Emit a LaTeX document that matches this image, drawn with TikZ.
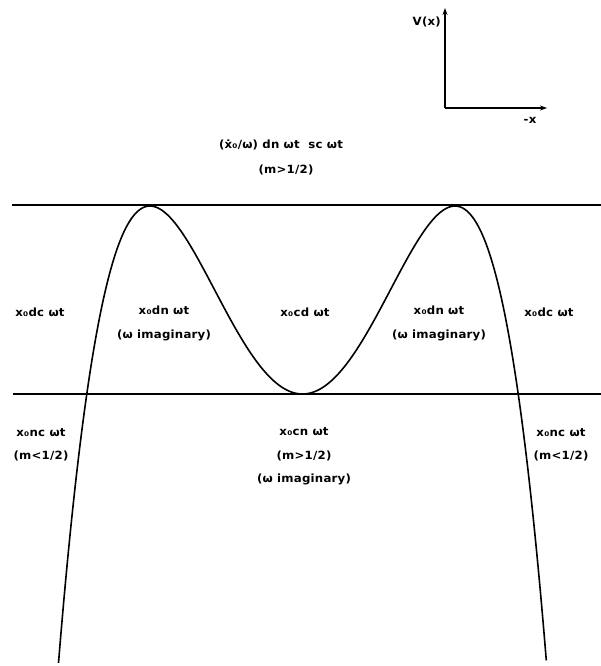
\documentclass[tikz,border=0pt]{standalone}
\usepackage{fontspec}
\setmainfont{DejaVu Sans}[FakeStretch=1.04, LetterSpace=2, BoldFont={DejaVu Sans Bold}]
\usetikzlibrary{arrows.meta}
\begin{document}
\begin{tikzpicture}[x=1pt,y=-1pt,
  lbl/.style={font=\fontsize{11.3}{23.5}\selectfont\bfseries, align=center, inner sep=0pt},
  levelline/.style={line width=1.3pt},
  curve/.style={line width=1.6pt},
  axis/.style={line width=1.3pt, -{Stealth[length=7pt,width=5pt]}}]
\useasboundingbox (0,0) rectangle (601,666);
% axes
\coordinate (O) at (445,108);
\coordinate (Vtop) at (445,8);
\coordinate (Xend) at (547,108);
\draw[axis] (O) -- (Vtop);
\draw[axis] (O) -- (Xend);
\node[lbl, anchor=east] (vlab) at (441,22) {V(x)};
\node[lbl] (xlab) at (530,120) {-x};
% level lines
\coordinate (U1) at (12,205);
\coordinate (U2) at (601,205);
\coordinate (L1) at (13,394);
\coordinate (L2) at (601,394);
\draw[levelline] (U1) -- (U2);
\draw[levelline] (L1) -- (L2);
% potential curve
\draw[curve, domain=-2.44:2.44, samples=241, smooth]
  plot ({302.5+100*\x}, {394 - 161.6*\x*\x + 34.73*\x*\x*\x*\x});
% labels
\node[lbl] (top1) at (281,145) {(ẋ₀/ω) dn ωt\ \ sc ωt};
\node[lbl] (top2) at (286,170) {(m>1/2)};
\node[lbl] (dcl) at (40,312) {x₀dc ωt};
\node[lbl] (dnl) at (164,323.5) {x₀dn ωt\\(ω imaginary)};
\node[lbl] (cd) at (305,312) {x₀cd ωt};
\node[lbl] (dnr) at (439,323.5) {x₀dn ωt\\(ω imaginary)};
\node[lbl] (dcr) at (549,312) {x₀dc ωt};
\node[lbl] (ncl) at (41,445) {x₀nc ωt\\(m<1/2)};
\node[lbl] (cn) at (304,456.5) {x₀cn ωt\\(m>1/2)\\(ω imaginary)};
\node[lbl] (ncr) at (561,445) {x₀nc ωt\\(m<1/2)};
\end{tikzpicture}
\end{document}
